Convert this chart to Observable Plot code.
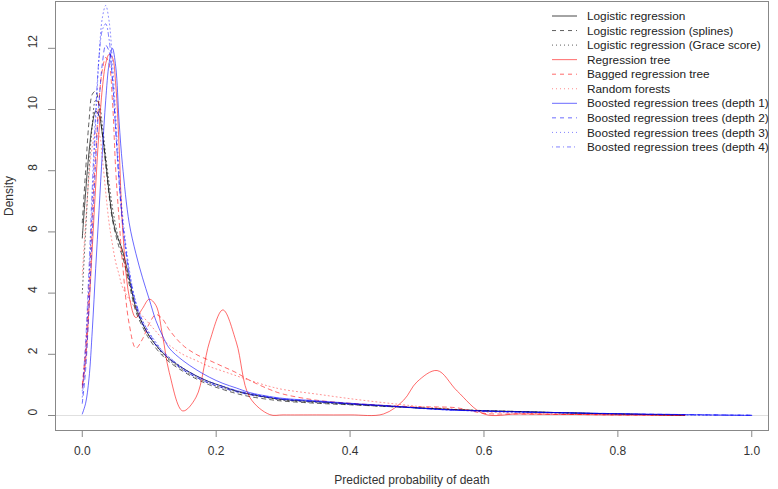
<!DOCTYPE html>
<html>
<head>
<meta charset="utf-8">
<script src="https://cdn.jsdelivr.net/npm/d3@7"></script>
<script src="https://cdn.jsdelivr.net/npm/@observablehq/plot@0.6"></script>
<style>
  html, body { margin: 0; padding: 0; background: #fff; }
  #wrap { position: relative; width: 778px; height: 489px; font-family: "Liberation Sans", Arial, sans-serif; }
  #legend { position: absolute; left: 0; top: 0; pointer-events: none; }
</style>
</head>
<body>
<div id="wrap"></div>
<script>
// Shared grid of predicted probabilities
const xGrid = [0, .005, .01, .015, .02, .025, .03, .035, .04, .045, .05, .055, .06, .07, .08, .09, .10, .11, .12, .13, .15, .17, .19, .21, .23, .25, .28, .30, .35, .40, .45, .48, .50, .53, .56, .60, .65, .70, .80, .90, 1.0];

const seriesNames = [
  "Logistic regression",
  "Logistic regression (splines)",
  "Logistic regression (Grace score)",
  "Regression tree",
  "Bagged regression tree",
  "Random forests",
  "Boosted regression trees (depth 1)",
  "Boosted regression trees (depth 2)",
  "Boosted regression trees (depth 3)",
  "Boosted regression trees (depth 4)"
];

const logistic = [5.8, 7.3, 8.6, 9.5, 9.95, 9.8, 9.2, 8.3, 7.3, 6.5, 6.0, 5.7, 5.4, 4.5, 3.5, 3.0, 2.6, 2.3, 2.05, 1.85, 1.55, 1.3, 1.1, 0.95, 0.8, 0.7, 0.58, 0.52, 0.45, 0.38, 0.32, 0.28, 0.25, 0.22, 0.19, 0.15, 0.13, 0.1, 0.05, 0.01, null];
const logisticSplines = [6.3, 8.0, 9.6, 10.5, 10.6, 10.1, 9.2, 8.2, 7.2, 6.4, 5.9, 5.5, 5.2, 4.3, 3.4, 2.9, 2.5, 2.2, 1.95, 1.75, 1.45, 1.2, 1.0, 0.85, 0.72, 0.62, 0.52, 0.47, 0.4, 0.35, 0.3, 0.27, 0.25, 0.22, 0.19, 0.16, 0.13, 0.1, 0.05, 0.01, null];
const logisticGrace = [4.0, 6.0, 8.0, 9.5, 10.3, 10.2, 9.5, 8.5, 7.6, 6.8, 6.2, 5.7, 5.3, 4.4, 3.6, 3.0, 2.6, 2.3, 2.0, 1.8, 1.5, 1.25, 1.05, 0.9, 0.78, 0.68, 0.57, 0.5, 0.42, 0.36, 0.3, 0.27, 0.25, 0.22, 0.19, 0.16, 0.13, 0.1, 0.05, 0.01, null];
const regressionTree = [0.9, 1.8, 3.5, 5.5, 7.5, 9.3, 10.7, 11.5, 11.8, 11.7, 10.8, 8.8, 6.2, 3.9, 3.2, 3.5, 3.8, 3.6, 2.6, 1.4, 0.15, 0.6, 2.4, 3.45, 2.4, 0.6, 0.03, 0.02, 0.02, 0.02, 0.05, 0.5, 1.1, 1.47, 0.8, 0.05, 0.05, 0.04, 0.02, 0.01, null];
const baggedTree = [1.0, 2.2, 4.2, 6.5, 8.6, 10.3, 11.3, 11.7, 11.5, 10.3, 8.0, 6.4, 5.0, 3.0, 2.2, 2.5, 3.0, 3.3, 3.15, 2.8, 2.3, 2.0, 1.8, 1.6, 1.4, 1.15, 0.85, 0.7, 0.5, 0.4, 0.33, 0.3, 0.28, 0.28, 0.25, 0.07, 0.05, 0.04, 0.02, 0.01, null];
const randomForests = [4.6, 6.3, 7.8, 8.8, 9.3, 9.2, 8.4, 7.3, 6.3, 5.6, 5.0, 4.6, 4.2, 3.8, 3.5, 3.25, 3.0, 2.75, 2.5, 2.3, 2.0, 1.8, 1.6, 1.45, 1.3, 1.15, 0.95, 0.85, 0.7, 0.55, 0.42, 0.35, 0.3, 0.25, 0.2, 0.12, 0.08, 0.05, 0.02, 0.01, null];
const boostedDepth1 = [0.05, 0.4, 1.2, 2.8, 4.8, 6.7, 8.6, 10.3, 11.5, 12.0, 11.4, 9.6, 8.2, 6.3, 5.3, 4.5, 3.8, 3.1, 2.6, 2.2, 1.8, 1.5, 1.25, 1.05, 0.9, 0.75, 0.62, 0.56, 0.48, 0.4, 0.33, 0.28, 0.25, 0.2, 0.17, 0.15, 0.12, 0.1, 0.06, 0.03, 0.0];
const boostedDepth2 = [0.4, 1.5, 3.5, 6.0, 8.3, 10.2, 11.5, 12.1, 11.9, 11.0, 9.3, 7.6, 6.3, 4.6, 3.6, 3.0, 2.6, 2.3, 2.05, 1.85, 1.5, 1.25, 1.05, 0.9, 0.78, 0.68, 0.58, 0.52, 0.45, 0.38, 0.32, 0.28, 0.25, 0.21, 0.18, 0.15, 0.12, 0.1, 0.06, 0.03, 0.01];
const boostedDepth3 = [0.6, 2.0, 4.3, 7.0, 9.6, 11.7, 13.0, 13.4, 12.9, 11.6, 9.8, 8.0, 6.6, 4.8, 3.7, 3.1, 2.7, 2.4, 2.1, 1.9, 1.55, 1.3, 1.1, 0.95, 0.82, 0.72, 0.6, 0.54, 0.46, 0.38, 0.31, 0.27, 0.24, 0.2, 0.17, 0.14, 0.11, 0.09, 0.05, 0.02, 0.01];
const boostedDepth4 = [0.8, 2.4, 4.8, 7.5, 9.9, 11.7, 12.6, 12.8, 12.3, 11.0, 9.3, 7.7, 6.4, 4.7, 3.7, 3.1, 2.7, 2.35, 2.1, 1.9, 1.55, 1.3, 1.1, 0.95, 0.82, 0.72, 0.6, 0.54, 0.46, 0.38, 0.31, 0.27, 0.24, 0.2, 0.17, 0.14, 0.11, 0.09, 0.05, 0.02, 0.01];

const xTicks = [0, 0.2, 0.4, 0.6, 0.8, 1.0];
const yTicks = [0, 2, 4, 6, 8, 10, 12];

// Styling per series (color, dash)
const seriesValues = [logistic, logisticSplines, logisticGrace, regressionTree, baggedTree, randomForests, boostedDepth1, boostedDepth2, boostedDepth3, boostedDepth4];
const seriesColors = ["#000", "#000", "#000", "#ff0000", "#ff0000", "#ff0000", "#0000ff", "#0000ff", "#0000ff", "#0000ff"];
const seriesDash = [null, "4,4", "1,3", null, "4,4", "1,3", null, "4,4", "1,3", "1,3,4,3"];
const seriesOpacity = [0.8, 0.7, 0.7, 0.65, 0.65, 0.5, 0.65, 0.65, 0.55, 0.55];

const rows = seriesNames.map((name, k) =>
  xGrid.map((x, i) => ({x, y: seriesValues[k][i], s: name})).filter(d => d.y != null)
);

const W = 778, H = 489;
const plot = Plot.plot({
  width: W,
  height: H,
  marginLeft: 55,
  marginRight: 10,
  marginTop: 1,
  marginBottom: 59,
  style: {fontFamily: '"Liberation Sans", Arial, sans-serif', fontSize: "12px", color: "#333", background: "#fff", overflow: "visible"},
  x: {domain: [-0.04, 1.025]},
  y: {domain: [-0.49, 13.53]},
  marks: [
    Plot.ruleY([0], {stroke: "#d8d8d8", strokeWidth: 0.8}),
    ...rows.map((data, k) => Plot.line(data, {
      x: "x", y: "y", curve: "catmull-rom",
      stroke: seriesColors[k], strokeWidth: 0.9, strokeOpacity: seriesOpacity[k],
      strokeDasharray: seriesDash[k]
    })),
    Plot.frame({stroke: "#888", strokeWidth: 1}),
    Plot.axisX({ticks: xTicks, tickSize: 7, tickPadding: 9, tickFormat: d3.format(".1f"), label: null, stroke: "#888", fill: "#333", fontSize: 12}),
    Plot.axisY({ticks: yTicks, tickSize: 7, tickFormat: () => "", label: null, stroke: "#888"}),
    Plot.text(yTicks, {frameAnchor: "left", y: d => d, text: d => String(d), rotate: -90, dx: -22, fill: "#333", fontSize: 12}),
    Plot.text(["Predicted probability of death"], {frameAnchor: "bottom", dy: 53, fill: "#333", fontSize: 12}),
    Plot.text(["Density"], {frameAnchor: "left", dx: -46, rotate: -90, fill: "#333", fontSize: 12})
  ]
});
const wrap = document.getElementById("wrap");
wrap.appendChild(plot);

// Legend (top-right, inside plot area)
const svg = d3.select(wrap).append("svg").attr("id", "legend").attr("width", W).attr("height", H);
const g = svg.selectAll("g").data(seriesNames).join("g")
  .attr("transform", (d, i) => `translate(0,${16 + i * 14.55})`);
g.append("line").attr("x1", 552).attr("x2", 577).attr("y1", 0).attr("y2", 0)
  .attr("stroke", (d, i) => seriesColors[i]).attr("stroke-width", 0.9)
  .attr("stroke-opacity", (d, i) => seriesOpacity[i])
  .attr("stroke-dasharray", (d, i) => seriesDash[i]);
g.append("text").attr("x", 587).attr("y", 0).attr("dy", "0.35em")
  .attr("font-size", 11.8).attr("fill", "#222")
  .attr("font-family", '"Liberation Sans", Arial, sans-serif')
  .text(d => d);
</script>
</body>
</html>
